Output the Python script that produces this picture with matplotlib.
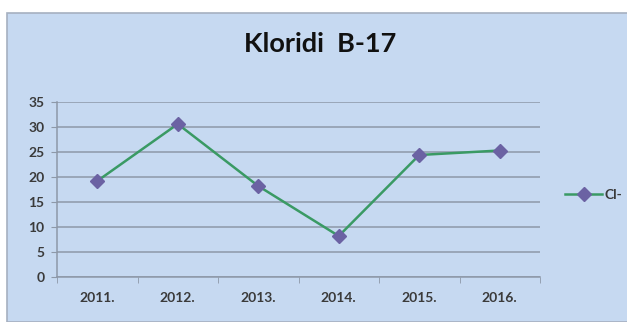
import matplotlib.pyplot as plt
from matplotlib.patches import Rectangle
from matplotlib.ticker import FixedLocator

# Kloridi po godinama
godine = ['2011.', '2012.', '2013.', '2014.', '2015.', '2016.']
kloridi = [19.2, 30.6, 18.2, 8.2, 24.4, 25.3]

plt.rcParams['font.family'] = ['Lato', 'DejaVu Sans']

fig = plt.figure(figsize=(6.27, 3.22), dpi=100, facecolor='white')

# plava pozadina grafikona
fig.patches.append(Rectangle((7 / 627, 0), 1, 309 / 322, transform=fig.transFigure,
                             facecolor='#c6d9f1', edgecolor='#a6b0c0', linewidth=1.2,
                             zorder=-5))

ax = fig.add_axes([57 / 627, 45 / 322, 483 / 627, 175 / 322])
ax.set_facecolor('none')

x = [i + 0.5 for i in range(len(godine))]
ax.plot(x, kloridi, color='#3a9a64', linewidth=1.8, marker='D', markersize=7.5,
        markerfacecolor='#6b62a3', markeredgecolor='#6b62a3', label='Cl-', zorder=3)

ax.set_xlim(0, len(godine))
ax.set_ylim(0, 35)
ax.set_yticks(range(0, 36, 5))
ax.grid(axis='y', color='#8d98a8', linewidth=1.1)
ax.set_axisbelow(True)

ax.set_xticks(x)
ax.set_xticklabels(godine)
ax.xaxis.set_minor_locator(FixedLocator(range(0, len(godine) + 1)))
ax.tick_params(axis='x', which='major', length=0, pad=11, labelsize=10,
               labelcolor='#3a3a3a')
ax.tick_params(axis='x', which='minor', length=4, color='#8d98a8', direction='out')
ax.tick_params(axis='y', length=4, color='#8d98a8', labelsize=10, labelcolor='#3a3a3a',
               pad=5)
for lbl in ax.get_xticklabels() + ax.get_yticklabels():
    lbl.set_fontweight('bold')

for s in ['top', 'right']:
    ax.spines[s].set_visible(False)
for s in ['left', 'bottom']:
    ax.spines[s].set_color('#8d98a8')
    ax.spines[s].set_linewidth(1.1)

fig.text(320 / 627, 1 - 44 / 322, 'Kloridi  B-17', ha='center', va='center',
         fontsize=19.5, fontweight='bold', color='#111111')

ax.legend(loc='center left', bbox_to_anchor=(1.04, 0.47), frameon=False,
          handlelength=2.7, handletextpad=0.15, borderaxespad=0,
          prop={'weight': 'bold', 'size': 10}, labelcolor='#3a3a3a')

fig.savefig('out.png', dpi=100)
